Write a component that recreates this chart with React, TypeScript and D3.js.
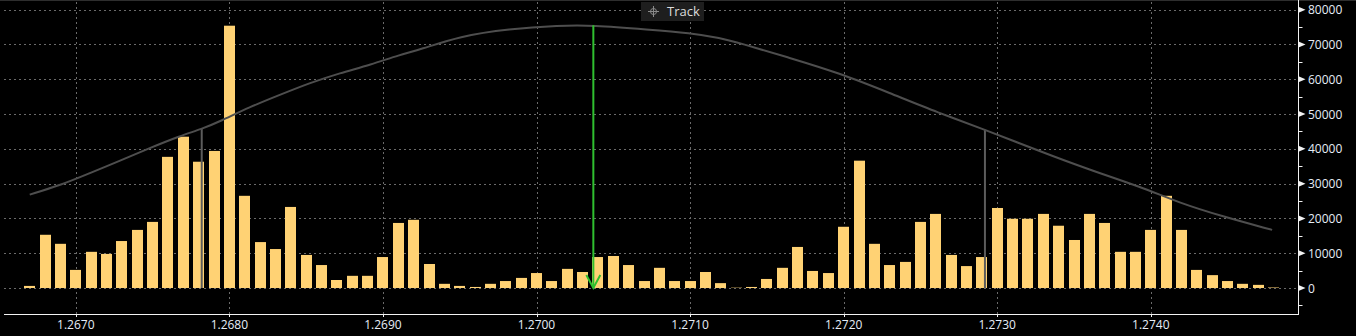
import React from "react";
import * as d3 from "d3";

const W = 1356;
const H = 336;

// Price bins (categories)
const binPrices: number[] = [
  1.2667, 1.2668, 1.2669, 1.2670, 1.2671, 1.2672, 1.2673, 1.2674, 1.2675, 1.2676,
  1.2677, 1.2678, 1.2679, 1.2680, 1.2681, 1.2682, 1.2683, 1.2684, 1.2685, 1.2686,
  1.2687, 1.2688, 1.2689, 1.2690, 1.2691, 1.2692, 1.2693, 1.2694, 1.2695, 1.2696,
  1.2697, 1.2698, 1.2699, 1.2700, 1.2701, 1.2702, 1.2703, 1.2704, 1.2705, 1.2706,
  1.2707, 1.2708, 1.2709, 1.2710, 1.2711, 1.2712, 1.2713, 1.2714, 1.2715, 1.2716,
  1.2717, 1.2718, 1.2719, 1.2720, 1.2721, 1.2722, 1.2723, 1.2724, 1.2725, 1.2726,
  1.2727, 1.2728, 1.2729, 1.2730, 1.2731, 1.2732, 1.2733, 1.2734, 1.2735, 1.2736,
  1.2737, 1.2738, 1.2739, 1.2740, 1.2741, 1.2742, 1.2743, 1.2744, 1.2745, 1.2746,
  1.2747, 1.2748,
];

// Volume per bin
const volumes: number[] = [
  600, 15300, 12700, 5200, 10400, 9800, 13500, 16700, 19000, 37700,
  43500, 36300, 39400, 75400, 26500, 13200, 11200, 23300, 9500, 6600,
  2300, 3500, 3500, 8900, 18700, 19600, 6900, 1200, 600, 300,
  1200, 2000, 2900, 4300, 2000, 5500, 4600, 8900, 9200, 6600,
  2000, 5800, 2000, 2000, 4600, 1400, 100, 300, 2600, 5800,
  11800, 4900, 4300, 17600, 36600, 12700, 6600, 7500, 19000, 21300,
  9500, 6300, 8900, 23000, 19900, 19900, 21300, 17900, 13800, 21300,
  18700, 10400, 10400, 16700, 26500, 16700, 5200, 3700, 2000, 1200,
  900, 150,
];

// Smooth distribution curve (price, value)
const curvePrices: number[] = [
  1.26670, 1.26690, 1.26709, 1.26729, 1.26748, 1.26768, 1.26782, 1.26794, 1.26813, 1.26833,
  1.26852, 1.26872, 1.26892, 1.26911, 1.26924, 1.26950, 1.26982, 1.27015, 1.27036, 1.27073,
  1.27100, 1.27120, 1.27132, 1.27165, 1.27197, 1.27230, 1.27262, 1.27291, 1.27328, 1.27360,
  1.27393, 1.27419, 1.27447, 1.27479,
];
const curveValues: number[] = [
  26850, 29550, 33010, 36630, 40200, 43740, 45700, 47900, 52000, 55540,
  58900, 61780, 64170, 67050, 68490, 72400, 74500, 75440, 75530, 74300,
  73300, 71850, 70450, 66140, 61820, 56060, 50300, 45690, 39250, 33980,
  29170, 24390, 20540, 16700,
];

// Markers
const valueAreaPrices: number[] = [1.26782, 1.27292];
const valueAreaValues: number[] = [45800, 45500];
const pocPrice = 1.27037;
const pocValue = 75500;

const xTicks: number[] = [1.267, 1.268, 1.269, 1.27, 1.271, 1.272, 1.273, 1.274];
const yTicks: number[] = [0, 10000, 20000, 30000, 40000, 50000, 60000, 70000, 80000];
const yMinorTicks: number[] = [-5000, 5000, 15000, 25000, 35000, 45000, 55000, 65000, 75000];

const PLOT_LEFT = 4;
const PLOT_RIGHT = 1298.5;
const PLOT_BOTTOM = 314;

export default function App() {
  const x = d3
    .scaleLinear()
    .domain([1.267, 1.274])
    .range([75.8, 1150.8]);
  const y = d3.scaleLinear().domain([0, 80000]).range([288, 9.7]);

  const barW = 11;
  const font = "'Open Sans', 'Noto Sans', sans-serif";
  const labelColor = "#e6edf7";
  const gridColor = "#6a6a6a";

  const curvePts: [number, number][] = curvePrices.map((p, i) => [p, curveValues[i]]);
  const line = d3
    .line<[number, number]>()
    .x((d) => x(d[0]))
    .y((d) => y(d[1]))
    .curve(d3.curveBasis);

  const px = x(pocPrice);
  const py0 = y(0);

  return (
    <svg
      width={W}
      height={H}
      style={{ position: "absolute", left: 0, top: 0, background: "#000" }}
    >
      <rect x={0} y={0} width={W} height={H} fill="#000" />
      <line x1={0} x2={W} y1={0.5} y2={0.5} stroke="#2e2e2e" strokeWidth={1} />

      {/* grid */}
      {yTicks.map((t) => (
        <line
          key={"gy" + t}
          x1={PLOT_LEFT}
          x2={PLOT_RIGHT}
          y1={Math.round(y(t)) + 0.5}
          y2={Math.round(y(t)) + 0.5}
          stroke={gridColor}
          strokeWidth={1}
          strokeDasharray="2,3"
        />
      ))}
      {xTicks.map((t) => (
        <line
          key={"gx" + t}
          x1={Math.round(x(t)) + 0.5}
          x2={Math.round(x(t)) + 0.5}
          y1={2}
          y2={PLOT_BOTTOM}
          stroke={gridColor}
          strokeWidth={1}
          strokeDasharray="2,3"
        />
      ))}

      {/* bars */}
      {binPrices.map((p, i) => (
        <rect
          key={"b" + i}
          x={Math.round(x(p) - barW / 2)}
          y={y(volumes[i])}
          width={barW}
          height={Math.max(0, y(0) - y(volumes[i]))}
          fill="#ffd274"
        />
      ))}

      {/* value area lines */}
      {valueAreaPrices.map((p, i) => (
        <line
          key={"va" + i}
          x1={x(p)}
          x2={x(p)}
          y1={y(valueAreaValues[i])}
          y2={y(0)}
          stroke="#5c5c5c"
          strokeWidth={2}
        />
      ))}

      {/* curve */}
      <path d={line(curvePts) || ""} fill="none" stroke="#4e4e4e" strokeWidth={2} />

      {/* POC arrow */}
      <line x1={px} x2={px} y1={y(pocValue)} y2={py0} stroke="#2fbf2f" strokeWidth={2} />
      <polyline
        points={`${px - 7},${py0 - 13} ${px},${py0} ${px + 7},${py0 - 13}`}
        fill="none"
        stroke="#2fbf2f"
        strokeWidth={2}
      />

      {/* axes */}
      <line x1={PLOT_LEFT} x2={PLOT_RIGHT} y1={PLOT_BOTTOM + 0.5} y2={PLOT_BOTTOM + 0.5} stroke="#f2f2f2" strokeWidth={1} />
      <line x1={PLOT_RIGHT} x2={PLOT_RIGHT} y1={0} y2={PLOT_BOTTOM + 1} stroke="#f2f2f2" strokeWidth={1} />

      {xTicks.map((t) => (
        <g key={"xt" + t}>
          <line
            x1={Math.round(x(t)) + 0.5}
            x2={Math.round(x(t)) + 0.5}
            y1={PLOT_BOTTOM}
            y2={PLOT_BOTTOM + 3}
            stroke="#f2f2f2"
          />
          <text
            x={x(t)}
            y={329}
            textAnchor="middle"
            fontFamily={font}
            fontSize={12}
            fill={labelColor}
          >
            {t.toFixed(4)}
          </text>
        </g>
      ))}

      {yMinorTicks.map((t) => (
        <line
          key={"ym" + t}
          x1={PLOT_RIGHT}
          x2={PLOT_RIGHT + 4}
          y1={Math.round(y(t)) + 0.5}
          y2={Math.round(y(t)) + 0.5}
          stroke="#f2f2f2"
        />
      ))}
      {yTicks.map((t) => {
        const ty = y(t);
        return (
          <g key={"yt" + t}>
            <polygon
              points={`${PLOT_RIGHT},${ty - 3} ${PLOT_RIGHT + 7},${ty} ${PLOT_RIGHT},${ty + 3}`}
              fill="#f2f2f2"
            />
            <text
              x={1308}
              y={ty}
              dominantBaseline="central"
              fontFamily={font}
              fontSize={12}
              fill={labelColor}
            >
              {String(t)}
            </text>
          </g>
        );
      })}

      {/* Track badge */}
      <rect x={641} y={2} width={63} height={19} fill="#1e1e1e" />
      <g stroke="#8a8a8a" strokeWidth={1} fill="none">
        <circle cx={653.5} cy={11.5} r={3} />
        <line x1={648} x2={659} y1={11.5} y2={11.5} />
        <line x1={653.5} x2={653.5} y1={6} y2={17} />
      </g>
      <text x={667} y={16} fontFamily={font} fontSize={13} fill="#dcdcdc">
        Track
      </text>
    </svg>
  );
}
